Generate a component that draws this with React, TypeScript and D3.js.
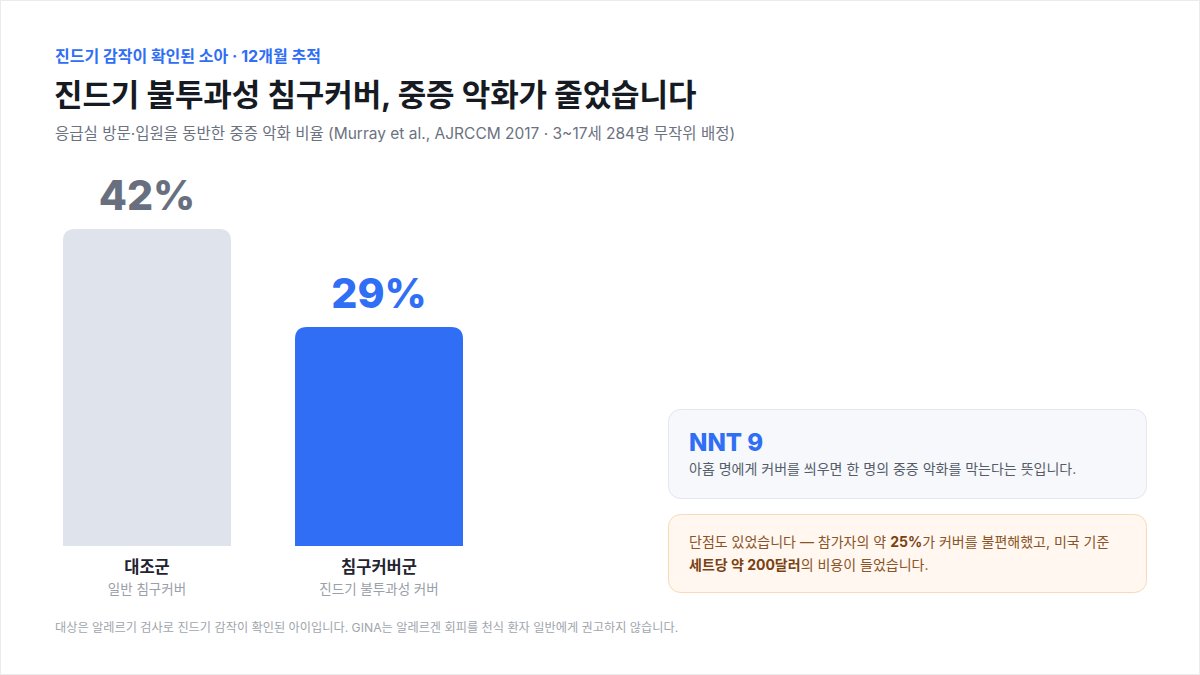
import { scaleBand, scaleLinear } from "d3";

const categories = ["대조군", "침구커버군"];
const subLabels = ["일반 침구커버", "진드기 불투과성 커버"];
const rates = [42, 29];
const valueLabels = ["42%", "29%"];

const eyebrow = "진드기 감작이 확인된 소아 · 12개월 추적";
const title = "진드기 불투과성 침구커버, 중증 악화가 줄었습니다";
const subtitle =
  "응급실 방문·입원을 동반한 중증 악화 비율 (Murray et al., AJRCCM 2017 · 3~17세 284명 무작위 배정)";
const footnote =
  "대상은 알레르기 검사로 진드기 감작이 확인된 아이입니다. GINA는 알레르겐 회피를 천식 환자 일반에게 권고하지 않습니다.";

const W = 1200;
const H = 675;
const FONT = "Inter, 'Noto Sans CJK KR', 'Noto Sans', sans-serif";

const barFill = ["#dfe3ec", "#2f6ef5"];
const labelFill = ["#687080", "#2f6ef5"];

const App = () => {
  const x = scaleBand<string>()
    .domain(categories)
    .range([63, 463])
    .paddingInner(0.276);

  const baseY = 546;
  const y = scaleLinear().domain([0, 42]).range([baseY, 229]);

  const roundedTop = (x0: number, y0: number, w: number, h: number, r: number) =>
    `M${x0},${y0 + h}V${y0 + r}Q${x0},${y0} ${x0 + r},${y0}H${x0 + w - r}Q${x0 + w},${y0} ${x0 + w},${y0 + r}V${y0 + h}Z`;

  return (
    <svg
      width={W}
      height={H}
      viewBox={`0 0 ${W} ${H}`}
      style={{ position: "absolute", left: 0, top: 0, display: "block" }}
      fontFamily={FONT}
    >
      <rect x={0.5} y={0.5} width={W - 1} height={H - 1} fill="#fff" stroke="#ebebeb" />

      {/* header */}
      <text x={55} y={62} fontSize={16} fontWeight={700} fill="#2f6ef5">
        {eyebrow}
      </text>
      <text x={54} y={106} fontSize={31} fontWeight={700} fill="#161a22" letterSpacing={-0.1}>
        {title}
      </text>
      <text x={55} y={139} fontSize={15.5} fill="#6b7280">
        {subtitle}
      </text>

      {/* bars */}
      {categories.map((c, i) => {
        const bx = x(c)!;
        const bw = x.bandwidth();
        const top = y(rates[i]);
        const cx = bx + bw / 2;
        return (
          <g key={c}>
            <path d={roundedTop(bx, top, bw, baseY - top, 12)} fill={barFill[i]} />
            <text
              x={cx}
              y={top - 19}
              textAnchor="middle"
              fontSize={41}
              fontWeight={800}
              fill={labelFill[i]}
            >
              {valueLabels[i]}
            </text>
            <text x={cx} y={573} textAnchor="middle" fontSize={16.5} fontWeight={700} fill="#1f2430">
              {c}
            </text>
            <text x={cx} y={594} textAnchor="middle" fontSize={13.5} fill="#9aa0aa">
              {subLabels[i]}
            </text>
          </g>
        );
      })}

      {/* NNT card */}
      <rect x={668.5} y={409.5} width={478} height={89} rx={12} fill="#f6f8fc" stroke="#e3e7ee" />
      <text x={689} y={451} fontSize={24} fontWeight={800} fill="#2f6ef5">
        NNT 9
      </text>
      <text x={689} y={474} fontSize={14} fill="#555c68">
        아홉 명에게 커버를 씌우면 한 명의 중증 악화를 막는다는 뜻입니다.
      </text>

      {/* caveat card */}
      <rect x={668.5} y={514.5} width={478} height={78} rx={12} fill="#fff7f0" stroke="#fcd9b6" />
      <text x={689} y={547} fontSize={14} fill="#8a5426">
        단점도 있었습니다 — 참가자의 약 <tspan fontWeight={700} fill="#7a4212">25%</tspan>가 커버를 불편해했고, 미국 기준
      </text>
      <text x={689} y={570} fontSize={14} fill="#8a5426">
        <tspan fontWeight={700} fill="#7a4212">세트당 약 200달러</tspan>의 비용이 들었습니다.
      </text>

      {/* footnote */}
      <text x={55} y={632} fontSize={12.2} fill="#a0a5ad">
        {footnote}
      </text>
    </svg>
  );
};

export default App;
